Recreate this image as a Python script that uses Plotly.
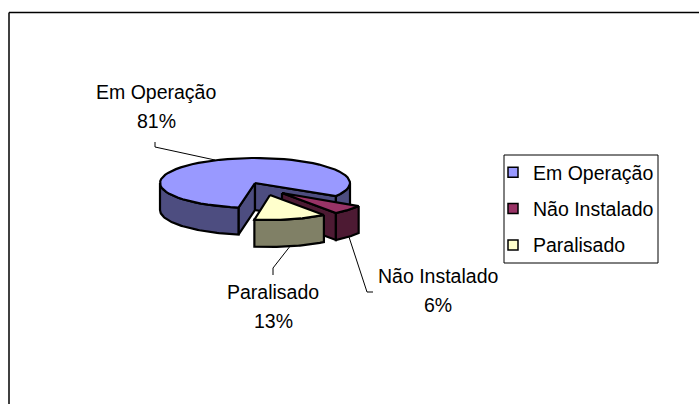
"""3D pie of operating status, drawn as filled polygons on a pixel-scaled axis (plotly has no 3D pie)."""
import numpy as np
import plotly.graph_objects as go

categories = ['Em Operação', 'Não Instalado', 'Paralisado']
values = [81, 6, 13]
top_colors = ['#9999FF', '#993366', '#FFFFCC']
side_colors = ['#4D4D80', '#4D1A33', '#808066']

W, H = 699, 404
FONT = 'Liberation Sans, Arial, sans-serif'
FS = 19.5
START = 190      # clockwise from 12 o'clock
RY, DEPTH = 25, 27
RADII = [95, 90, 90]   # exploded slices come out a bit narrower in the original
CENTERS = [(255, 183), (282, 193), (270, 195)]   # exploded slices shift their apex

# label centre x, name y, pct y, leader line
LABELS = [
    (156, 92, 121, [155, 155, 215], [142, 147, 160]),
    (438, 276, 305, [373, 367, 349], [292, 292, 237]),
    (273, 292, 321, [273, 273, 291], [275, 268, 245]),
]


def rim(i, a0, a1, dz=0):
    c = CENTERS[i]
    t = np.radians(np.linspace(a0, a1, 60))
    return c[0] + RADII[i]*np.sin(t), c[1] - RY*np.cos(t) + dz


def poly(fig, x, y, color):
    fig.add_trace(go.Scatter(x=x, y=y, mode='lines', fill='toself', fillcolor=color,
                             line=dict(color='black', width=2.2), hoverinfo='skip', showlegend=False))


def side(fig, i, a0, a1):
    x0, y0 = rim(i, a0, a1)
    x1, y1 = rim(i, a1, a0, DEPTH)
    poly(fig, np.r_[x0, x1, x0[0]], np.r_[y0, y1, y0[0]], side_colors[i])


def cut(fig, i, a):
    c = CENTERS[i]
    x, y = rim(i, a, a)
    poly(fig, [c[0], x[0], x[0], c[0], c[0]], [c[1], y[0], y[0]+DEPTH, c[1]+DEPTH, c[1]], side_colors[i])


def top(fig, i, a0, a1):
    c = CENTERS[i]
    x, y = rim(i, a0, a1)
    poly(fig, np.r_[c[0], x, c[0]], np.r_[c[1], y, c[1]], top_colors[i])


fig = go.Figure()
ang = START + np.cumsum([0] + [v*3.6 for v in values])

# Em Operação: both cut faces show, outer wall only where it faces us
cut(fig, 0, ang[0])
cut(fig, 0, ang[1])
side(fig, 0, ang[0], 270)
side(fig, 0, 450, ang[1])
top(fig, 0, ang[0], ang[1])

# Não Instalado
cut(fig, 1, ang[2])
side(fig, 1, ang[1], ang[2])
top(fig, 1, ang[1], ang[2])

# Paralisado
side(fig, 2, ang[2], ang[3])
top(fig, 2, ang[2], ang[3])

# leader lines
for lab in LABELS:
    fig.add_trace(go.Scatter(x=lab[3], y=lab[4], mode='lines', line=dict(color='black', width=1),
                             hoverinfo='skip', showlegend=False))

# legend entries
for name, col in zip(categories, top_colors):
    fig.add_trace(go.Scatter(x=[None], y=[None], mode='markers', name=name, legendgroup=name,
                             marker=dict(symbol='square', size=10, color=col, line=dict(color='black', width=1.5))))

ann = []
for name, v, lab in zip(categories, values, LABELS):
    ann.append(dict(x=lab[0], y=lab[1], text=name, showarrow=False))
    ann.append(dict(x=lab[0], y=lab[2], text=f'{v}%', showarrow=False))

fig.update_layout(
    width=W, height=H, margin=dict(l=0, r=0, t=0, b=0),
    paper_bgcolor='white', plot_bgcolor='white',
    font=dict(family=FONT, size=FS, color='black'),
    xaxis=dict(range=[0, W], visible=False, fixedrange=True),
    yaxis=dict(range=[H, 0], visible=False, fixedrange=True),
    annotations=ann,
    legend=dict(x=493/W, y=1-153/H, xanchor='left', yanchor='top', bgcolor='rgba(0,0,0,0)',
                traceorder='grouped', tracegroupgap=8, itemclick=False, itemdoubleclick=False),
    shapes=[
        dict(type='rect', x0=504, x1=658, y0=155, y1=263, line=dict(color='black', width=1)),
        dict(type='line', x0=9, x1=W, y0=12.5, y1=12.5, line=dict(color='black', width=1.5)),
        dict(type='line', x0=9, x1=9, y0=12.5, y1=H, line=dict(color='black', width=1.5)),
    ],
)
fig.write_html("out.html", config=dict(displayModeBar=False), post_script="document.body.style.margin='0'")
